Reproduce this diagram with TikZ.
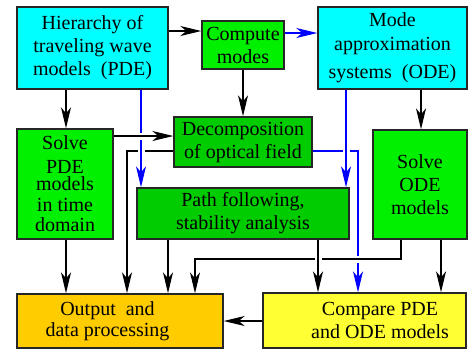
\documentclass[tikz,border=0pt]{standalone}
\usepackage{fontspec}
\setmainfont{Liberation Serif}
\usetikzlibrary{arrows.meta, backgrounds}

\definecolor{boxcyan}{RGB}{0,255,255}
\definecolor{solvegreen}{RGB}{0,240,0}
\definecolor{darkgreen}{RGB}{0,204,0}
\definecolor{outgold}{RGB}{255,204,0}
\definecolor{cmpyellow}{RGB}{255,255,51}

\tikzset{
  box/.style={draw=black!85, line width=0.7pt, inner sep=0pt, align=center,
    font=\fontsize{10}{11.5}\selectfont},
  txt/.style={align=center, inner sep=0pt, font=\fontsize{10}{11.5}\selectfont},
  arr/.style={-{Stealth[length=10.5pt,width=5pt,inset=3pt]}, line width=0.65pt},
  barr/.style={arr, blue, line width=0.6pt},
  over/.style={preaction={draw=white, line width=3.5pt, -}},
}

\begin{document}
\begin{tikzpicture}[x=0.5pt,y=-0.5pt]
\useasboundingbox (0,0) rectangle (469,350);
% top row
\node[box, fill=boxcyan, minimum width=75.5pt, minimum height=41pt] (hier) at (92.5,48)
  {Hierarchy of\\traveling wave\\models\ \ (PDE)};
\node[box, fill=solvegreen, minimum width=41pt, minimum height=24pt] (comp) at (243,45)
  {Compute\\modes};
\node[box, fill=boxcyan, minimum width=74.5pt, minimum height=41pt] (mode) at (392.5,48)
  {Mode\\[0.5pt]approximation\\[2.5pt]systems\ \ (ODE)};
% middle
\node[box, fill=solvegreen, minimum width=48pt, minimum height=55pt] (spde) at (65,184)
  {Solve\\[0.5pt]PDE\\[-3pt]models\\[-1pt]in time\\[-1.5pt]domain};
\node[box, fill=darkgreen, minimum width=69pt, minimum height=25pt] (decomp) at (243,142)
  {Decomposition\\of optical field};
\node[box, fill=darkgreen, minimum width=106pt, minimum height=25.5pt] (path) at (243,213.5)
  {Path following,\\stability analysis};
\node[box, fill=solvegreen, minimum width=47pt, minimum height=54.5pt] (sode) at (420,184.5)
  {Solve\\ODE\\models};
% bottom row
\node[box, fill=outgold, minimum width=103pt, minimum height=27pt,
  label={[txt, xshift=-6.25pt, font=\fontsize{10}{10.5}\selectfont]center:Output\ \ and\\data processing}]
  (out) at (120,321) {};
\node[box, fill=cmpyellow, minimum width=101.5pt, minimum height=27.5pt,
  label={[txt, xshift=7.75pt]center:Compare PDE\\and ODE models}]
  (cmp) at (364.5,320.5) {};

\begin{scope}[on background layer]
\draw[arr] (hier.east |- 0,31) -- (comp.west |- 0,31);
\draw[barr] (comp.east |- 0,33) -- (mode.west |- 0,33);
\draw[arr] (comp.south) -- (decomp.north);
\draw[arr] (hier.south -| 66,0) -- (spde.north -| 66,0);
\draw[arr] (mode.south -| 421,0) -- (sode.north -| 421,0);
% crossings: later lines break earlier ones
\coordinate (bj) at (358,151);
\draw[barr] (decomp.east |- bj) -- (bj) -- (cmp.north -| bj);
\draw[barr, over] (mode.south -| 346,0) -- (path.north -| 346,0);
\draw[arr, over] (sode.south -| 401,0) |- (195,259) -- (out.north -| 195,0);
\draw[arr, over] (path.south -| 318,0) -- (cmp.north -| 318,0);
\draw[arr] (decomp.west |- 0,151) -| (out.north -| 127,0);
\draw[barr, over] (hier.south -| 141,0) -- (path.north -| 141,0);
\draw[arr, over] (spde.east |- 0,136) -- (decomp.west |- 0,136);
% down to the bottom row
\draw[arr] (spde.south -| 66,0) -- (out.north -| 66,0);
\draw[arr] (path.south -| 168,0) -- (out.north -| 168,0);
\draw[arr] (sode.south -| 441,0) -- (cmp.north -| 441,0);
\draw[arr] (cmp.west |- out) -- (out.east);
\end{scope}
\end{tikzpicture}
\end{document}
